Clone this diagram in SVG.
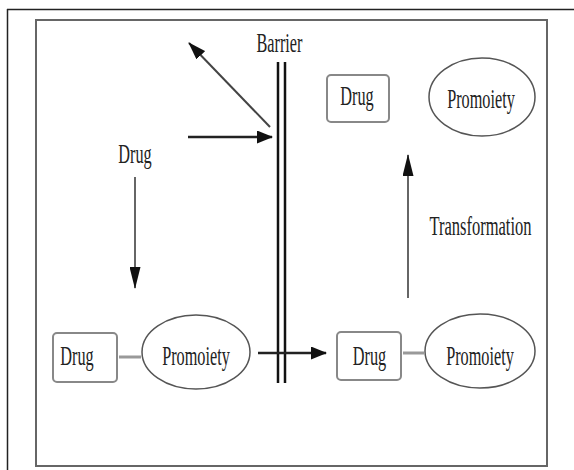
<svg xmlns="http://www.w3.org/2000/svg" width="574" height="470" viewBox="0 0 574 470">
<defs>
<style>
text{font-family:"Liberation Serif","Times New Roman",serif;font-size:28px;fill:#222;text-anchor:middle;}
.box{fill:#fff;stroke:#888;stroke-width:2;}
.ell{fill:#fff;stroke:#555;stroke-width:1.5;}
.link{stroke:#999;stroke-width:3;}
.arr{stroke:#222;stroke-width:2.5;fill:none;}
.darr{stroke:#444;stroke-width:2;fill:none;}
.varr{stroke:#666;stroke-width:2;fill:none;}
</style>
<marker id="ah" markerUnits="userSpaceOnUse" markerWidth="16" markerHeight="13" refX="15" refY="6.5" orient="auto">
<path d="M0,0 L16,6.5 L0,13 z" fill="#111"/>
</marker>
<marker id="av" markerUnits="userSpaceOnUse" markerWidth="22" markerHeight="11" refX="21" refY="5.5" orient="auto">
<path d="M0,0 L22,5.5 L0,11 z" fill="#111"/>
</marker>
<marker id="ad" markerUnits="userSpaceOnUse" markerWidth="18" markerHeight="12" refX="17" refY="6" orient="auto">
<path d="M0,0 L18,6 L0,12 z" fill="#111"/>
</marker>
</defs>
<rect width="574" height="470" fill="#fff"/>
<g id="frame">
<path d="M7,9.5 H574 M7.5,9 V470" stroke="#222" stroke-width="1.5" fill="none"/>
<rect x="36" y="20" width="511" height="446" fill="none" stroke="#666" stroke-width="2"/>
</g>
<g id="barrier">
<line x1="278" y1="62" x2="278" y2="383" stroke="#111" stroke-width="2.5"/>
<line x1="285" y1="62" x2="285" y2="383" stroke="#111" stroke-width="2.5"/>
<text transform="translate(279.5,52) scale(0.58,1)">Barrier</text>
</g>
<g id="drug-label">
<text transform="translate(135,163) scale(0.58,1)">Drug</text>
</g>
<g id="prodrug-left">
<rect class="box" x="53" y="333" width="64" height="49" rx="4"/>
<text transform="translate(77,365) scale(0.58,1)">Drug</text>
<ellipse class="ell" cx="196" cy="352" rx="54" ry="37"/>
<text transform="translate(196,365) scale(0.58,1)">Promoiety</text>
</g>
<g id="prodrug-right">
<rect class="box" x="337" y="332" width="64" height="48" rx="4"/>
<text transform="translate(369.5,365) scale(0.58,1)">Drug</text>
<ellipse class="ell" cx="480" cy="351" rx="55" ry="37"/>
<text transform="translate(480,365) scale(0.58,1)">Promoiety</text>
</g>
<g id="released">
<rect class="box" x="327" y="75" width="62" height="47" rx="4"/>
<text transform="translate(357,105) scale(0.58,1)">Drug</text>
<ellipse class="ell" cx="482" cy="97" rx="53" ry="39"/>
<text transform="translate(481,108) scale(0.58,1)">Promoiety</text>
</g>
<g id="transformation-label">
<text transform="translate(480.5,235) scale(0.59,1)">Transformation</text>
</g>
<g id="connectors">
<line class="link" x1="119" y1="357" x2="141" y2="357"/>
<line class="link" x1="403" y1="353" x2="424" y2="353"/>
<line class="darr" x1="270" y1="127" x2="189" y2="43" marker-end="url(#ad)"/>
<line class="arr" x1="188" y1="137" x2="272" y2="137" marker-end="url(#ah)"/>
<line class="varr" x1="135" y1="177" x2="135" y2="288" marker-end="url(#av)"/>
<line class="arr" x1="258" y1="353" x2="326" y2="353" marker-end="url(#ah)"/>
<line class="varr" x1="408" y1="298" x2="408" y2="155" marker-end="url(#av)"/>
</g>
</svg>
